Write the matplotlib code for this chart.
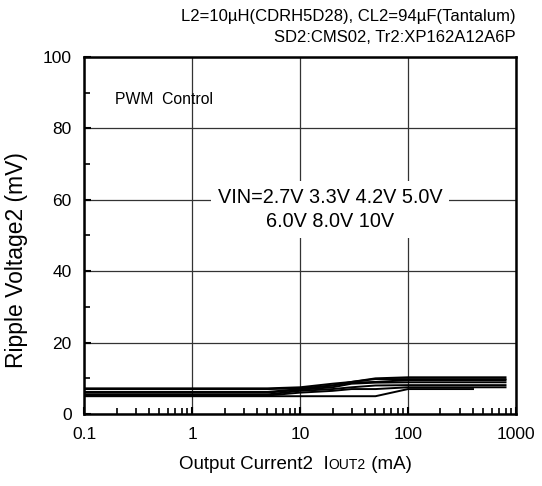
import matplotlib
matplotlib.use("Agg")
import matplotlib.pyplot as plt
from matplotlib.ticker import LogLocator, FixedLocator, MultipleLocator, NullFormatter

plt.rcParams['font.family'] = ['Liberation Sans', 'DejaVu Sans']

# Output current (mA) sample points
iout = [0.1, 1, 5, 10, 20, 30, 50, 100, 800]
iout_27 = [0.1, 1, 5, 10, 20, 30, 50, 100, 400]

# Ripple voltage (mV) for each VIN
vin_labels = ['2.7V', '3.3V', '4.2V', '5.0V', '6.0V', '8.0V', '10V']
ripple = {
    '2.7V': [5.0, 5.0, 5.0, 5.0, 5.0, 5.0, 5.0, 7.0, 7.0],
    '3.3V': [5.2, 5.2, 5.2, 6.0, 6.5, 7.0, 7.0, 7.5, 7.5],
    '4.2V': [5.5, 5.5, 5.5, 6.5, 7.0, 7.5, 8.0, 8.1, 8.1],
    '5.0V': [6.0, 6.0, 6.0, 6.8, 7.5, 8.5, 8.8, 8.9, 8.9],
    '6.0V': [6.2, 6.2, 6.2, 7.0, 8.0, 8.8, 9.0, 9.5, 9.5],
    '8.0V': [7.0, 7.0, 7.0, 7.2, 8.0, 9.0, 9.8, 9.8, 9.8],
    '10V':  [7.2, 7.2, 7.2, 7.5, 8.5, 9.0, 10.0, 10.3, 10.3],
}

fig = plt.figure(figsize=(5.42, 4.86), dpi=100)
ax = fig.add_axes([0.155, 0.148, 0.797, 0.735])

for v in vin_labels:
    xs = iout_27 if v == '2.7V' else iout
    ax.plot(xs, ripple[v], color='black', linewidth=1.4)

ax.set_xscale('log')
ax.set_xlim(0.1, 1000)
ax.set_ylim(0, 100)

ax.xaxis.set_major_locator(FixedLocator([0.1, 1, 10, 100, 1000]))
ax.set_xticklabels(['0.1', '1', '10', '100', '1000'])
ax.xaxis.set_minor_locator(LogLocator(base=10, subs=range(2, 10)))
ax.xaxis.set_minor_formatter(NullFormatter())
ax.yaxis.set_major_locator(MultipleLocator(20))
ax.yaxis.set_minor_locator(MultipleLocator(10))

ax.tick_params(axis='both', which='both', direction='in', top=False, right=False)
ax.tick_params(axis='both', which='major', length=5, width=1.5, labelsize=12.5, pad=9)
ax.tick_params(axis='both', which='minor', length=4, width=1.2)

ax.grid(True, which='major', color='#333333', linewidth=0.9)
for s in ax.spines.values():
    s.set_linewidth(1.8)

ax.set_ylabel('Ripple Voltage2 (mV)', fontsize=16.5)
ax.yaxis.set_label_coords(-0.13, 0.43)

# x label with small "OUT2"
fig.canvas.draw()
r = fig.canvas.get_renderer()
t1 = fig.text(0, 0.035, 'Output Current2  I', fontsize=13.5, va='baseline')
t2 = fig.text(0, 0.035, 'OUT2', fontsize=10, va='baseline')
t3 = fig.text(0, 0.035, ' (mA)', fontsize=13.5, va='baseline')
w = [t.get_window_extent(r).width / fig.bbox.width for t in (t1, t2, t3)]
x0 = 0.545 - sum(w) / 2
t1.set_x(x0)
t2.set_x(x0 + w[0])
t3.set_x(x0 + w[0] + w[1])

fig.text(0.952, 0.966, 'L2=10\u00b5H(CDRH5D28), CL2=94\u00b5F(Tantalum)',
         fontsize=12, ha='right', va='center')
fig.text(0.952, 0.923, 'SD2:CMS02, Tr2:XP162A12A6P',
         fontsize=12, ha='right', va='center')

ax.text(0.072, 0.88, 'PWM  Control', transform=ax.transAxes, fontsize=11.3,
        va='center', ha='left')

ax.text(0.57, 0.572, 'VIN=2.7V 3.3V 4.2V 5.0V\n6.0V 8.0V 10V', transform=ax.transAxes,
        fontsize=14.3, ha='center', va='center', linespacing=1.35,
        bbox=dict(facecolor='white', edgecolor='none', pad=5))

fig.savefig('out.png', dpi=100)
